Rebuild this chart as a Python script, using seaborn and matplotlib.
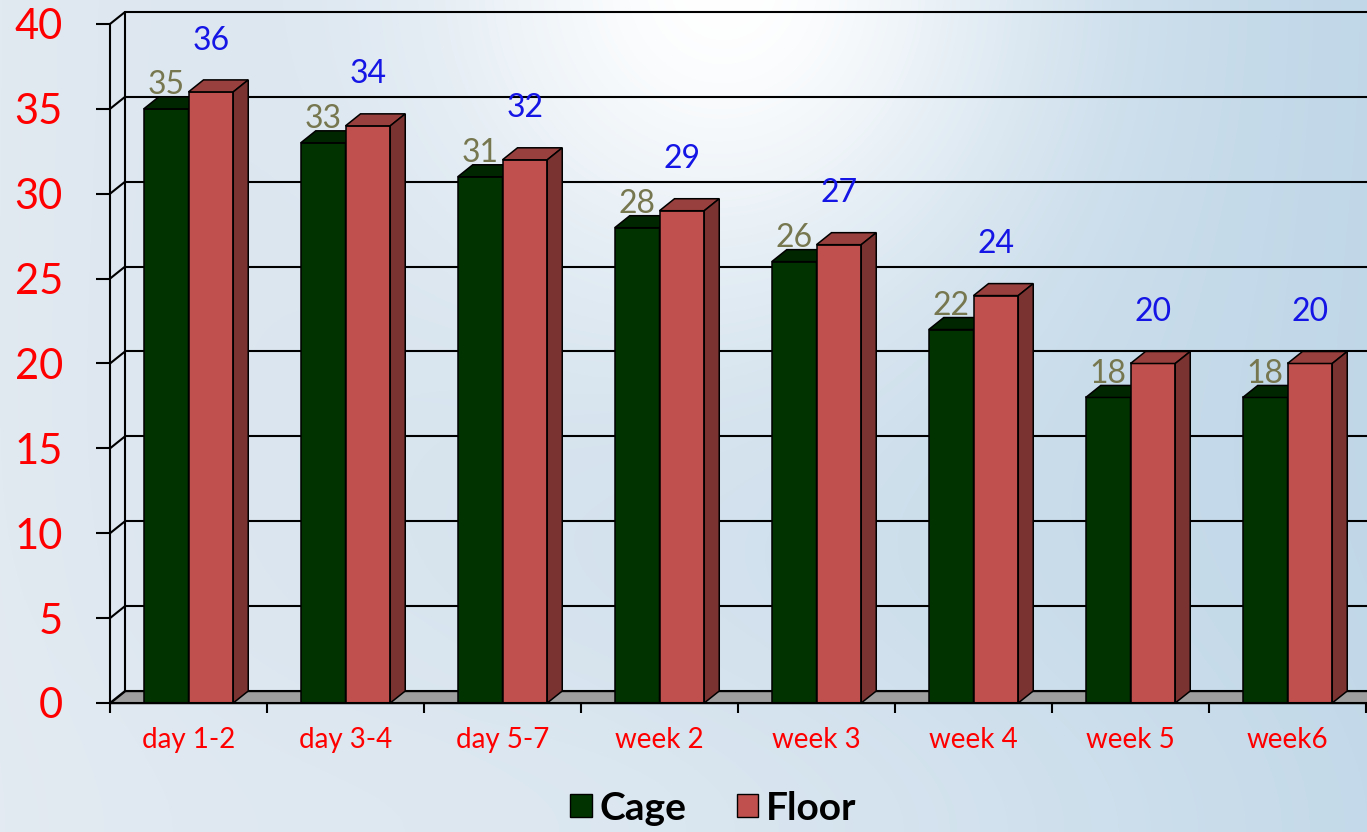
import numpy as np
import pandas as pd
import matplotlib
matplotlib.use("Agg")
import matplotlib.pyplot as plt
import seaborn as sns
from matplotlib.patches import Polygon, Patch
from matplotlib.lines import Line2D

# ---------------- data ----------------
categories = ["day 1-2", "day 3-4", "day 5-7", "week 2", "week 3", "week 4", "week 5", "week6"]
cage = [35, 33, 31, 28, 26, 22, 18, 18]
floor = [36, 34, 32, 29, 27, 24, 20, 20]
series_names = ["Cage", "Floor"]
y_ticks = [0, 5, 10, 15, 20, 25, 30, 35, 40]

# ---------------- style ----------------
sns.set_theme(style="white")
plt.rcParams["font.family"] = ["Lato", "DejaVu Sans"]

W, H = 1367, 832
DPI = 100
fig = plt.figure(figsize=(W / DPI, H / DPI), dpi=DPI)

# background gradient
xx = np.linspace(0, 1, W)[None, :]
yy = np.linspace(0, 1, H)[:, None]
left_c = np.array([0.885, 0.915, 0.945])
right_c = np.array([0.755, 0.845, 0.910])
t = np.clip(xx, 0, 1) ** 0.9
base = left_c[None, None, :] * (1 - t[..., None]) + right_c[None, None, :] * t[..., None]
base = np.broadcast_to(base, (H, W, 3)).copy()
# lighter bottom area
bl = np.exp(-(((xx - 0.45) / 0.45) ** 2 + ((yy - 1.0) / 0.25) ** 2))
base = base * (1 - 0.35 * bl[..., None]) + 0.35 * bl[..., None] * np.array([0.93, 0.95, 0.97])
# glow near top centre
d = np.sqrt(((xx - 0.53) / 0.22) ** 2 + ((yy + 0.02) / 0.38) ** 2)
g = np.exp(-d ** 2)
bg = base * (1 - g[..., None]) + g[..., None] * np.array([1.0, 1.0, 1.0])
bg_ax = fig.add_axes([0, 0, 1, 1], zorder=-10)
bg_ax.imshow(np.clip(bg, 0, 1), extent=[0, 1, 0, 1], aspect="auto")
bg_ax.axis("off")

# main axes
x_left, x_right = 110, 1366
y_zero, y_top = 703, 24
ax = fig.add_axes([x_left / W, (H - y_zero) / H, (x_right - x_left) / W, (y_zero - y_top) / H])
ax.set_facecolor("none")

green = "#003300"
green_top = "#002600"
red = "#C0504D"
red_top = "#98403D"
red_side = "#7A3331"

df = pd.DataFrame({
    "category": categories * 2,
    "value": cage + floor,
    "series": [series_names[0]] * len(cage) + [series_names[1]] * len(floor),
})
sns.barplot(data=df, x="category", y="value", hue="series", order=categories,
            hue_order=series_names, palette=[green, red], width=0.57,
            edgecolor="black", linewidth=1.1, saturation=1, ax=ax, legend=False)

ax.set_xlim(-0.5, len(categories) - 0.5)
ax.set_ylim(0, 40)

# depth offset: 15 px right, 12 px up -> data units
px_per_x = (x_right - x_left) / len(categories)
px_per_y = (y_zero - y_top) / 40.0
dx = 15 / px_per_x
dy = 12 / px_per_y

lw_grid = 1.5
# back wall gridlines
for v in y_ticks:
    ax.add_line(Line2D([-0.5 + dx, len(categories) + 1], [v + dy, v + dy], color="black",
                       lw=lw_grid, zorder=1, clip_on=False))
    ax.add_line(Line2D([-0.5, -0.5 + dx], [v, v + dy], color="black", lw=lw_grid,
                       zorder=1, clip_on=False))
ax.add_line(Line2D([-0.5 + dx, -0.5 + dx], [dy, 40 + dy], color="black", lw=lw_grid,
                   zorder=1, clip_on=False))
# floor
ax.add_patch(Polygon([[-0.5, 0], [len(categories) + 1, 0], [len(categories) + 1, dy],
                      [-0.5 + dx, dy]], closed=True, facecolor="#9E9E9E",
                     edgecolor="black", lw=1.0, zorder=2, clip_on=False))

# 3D faces for bars
tops = [green_top, red_top]
sides = ["#001A00", red_side]
label_colors = ["#77774F", "#1515E6"]
label_offsets = [17, 37]
for i, cont in enumerate(ax.containers):
    z = 5 + i
    for bar in cont.patches:
        bar.set_zorder(z)
        x0 = bar.get_x()
        x1 = x0 + bar.get_width()
        h = bar.get_height()
        ax.add_patch(Polygon([[x0, h], [x1, h], [x1 + dx, h + dy], [x0 + dx, h + dy]],
                             closed=True, facecolor=tops[i], edgecolor="black",
                             lw=1.1, zorder=z, clip_on=False))
        ax.add_patch(Polygon([[x1, 0], [x1 + dx, dy], [x1 + dx, h + dy], [x1, h]],
                             closed=True, facecolor=sides[i], edgecolor="black",
                             lw=1.1, zorder=z, clip_on=False))
        ax.annotate(f"{h:g}", xy=((x0 + x1) / 2, h), xytext=(0, label_offsets[i]),
                    textcoords="offset points", ha="center", va="center",
                    fontsize=23, color=label_colors[i], zorder=10, annotation_clip=False)

# axes styling
for s in ["top", "right"]:
    ax.spines[s].set_visible(False)
for s in ["left", "bottom"]:
    ax.spines[s].set_color("black")
    ax.spines[s].set_linewidth(lw_grid)
    ax.spines[s].set_zorder(8)

ax.set_yticks(y_ticks)
ax.set_yticklabels([str(v) for v in y_ticks])
ax.tick_params(axis="y", direction="out", length=10, width=lw_grid, color="black",
               pad=24, labelsize=30, labelcolor="#FF0000", left=True)
ax.set_xticks(range(len(categories)))
ax.set_xticklabels(categories)
ax.set_xticks(np.arange(-0.5, len(categories), 1), minor=True)
ax.tick_params(axis="x", which="major", length=0, pad=17, labelsize=20, labelcolor="#FF0000")
ax.tick_params(axis="x", which="minor", direction="out", length=7, width=lw_grid,
               color="black", bottom=True)
ax.set_xlabel("")
ax.set_ylabel("")
ax.grid(False)

# legend
handles = [Patch(facecolor=green, edgecolor="black", lw=1.0),
           Patch(facecolor=red, edgecolor="black", lw=1.0)]
fig.legend(handles, series_names, loc="center", bbox_to_anchor=(0.522, (H - 808) / H),
           ncol=2, frameon=False, prop={"weight": "bold", "size": 28},
           labelcolor="black", handlelength=0.55, handleheight=0.55,
           handletextpad=0.2, columnspacing=1.3)

fig.savefig("out.png", dpi=DPI)
